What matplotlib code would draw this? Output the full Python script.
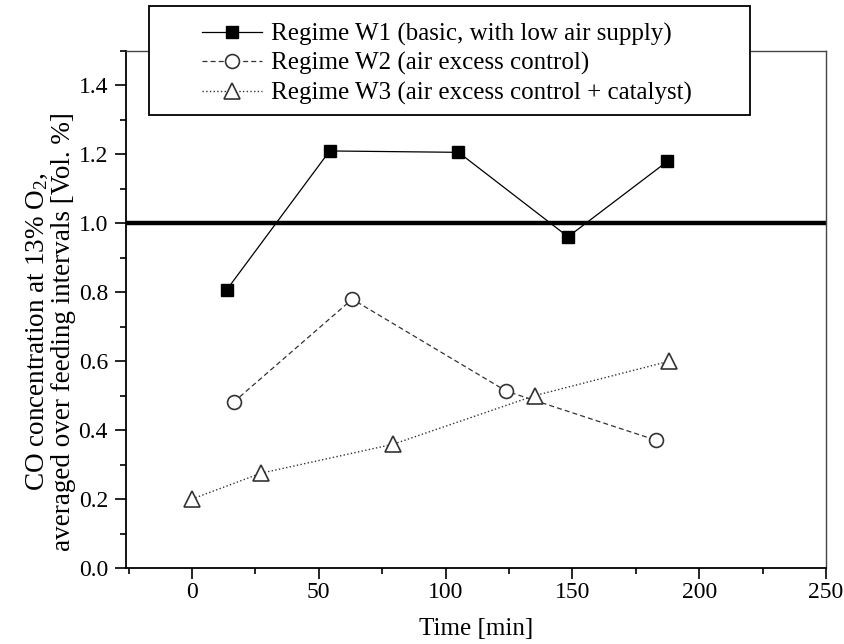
import matplotlib
matplotlib.use("Agg")
import matplotlib.pyplot as plt
from matplotlib.ticker import MultipleLocator, FormatStrFormatter
from matplotlib.patches import Rectangle

plt.rcParams['font.family'] = ['Liberation Serif', 'DejaVu Serif']
plt.rcParams['mathtext.fontset'] = 'custom'
plt.rcParams['mathtext.rm'] = 'Liberation Serif'
plt.rcParams['mathtext.it'] = 'Liberation Serif:italic'

# Data
w1_time = [13.7, 54.3, 105.1, 148.3, 187.5]
w1_co = [0.807, 1.210, 1.206, 0.961, 1.180]
w2_time = [16.4, 63.2, 124.0, 182.9]
w2_co = [0.481, 0.780, 0.513, 0.371]
w3_time = [0.0, 27.2, 79.3, 135.1, 188.2]
w3_co = [0.200, 0.275, 0.359, 0.500, 0.600]
limit_value = 1.0
labels = ["Regime W1 (basic, with low air supply)",
          "Regime W2 (air excess control)",
          "Regime W3 (air excess control + catalyst)"]

W, H = 845, 644
fig = plt.figure(figsize=(W/100, H/100), dpi=100)
ax = fig.add_axes([126/W, 1-568/H, (826-126)/W, (568-51)/H])

ax.axhline(limit_value, color='black', lw=3.2, zorder=2)
ax.plot(w1_time, w1_co, '-', color='black', lw=0.9, marker='s', ms=9,
        mfc='black', mec='black', label=labels[0], zorder=3)
ax.plot(w2_time, w2_co, '--', color='#333333', lw=0.9, marker='o', ms=10,
        mfc='white', mec='#333333', mew=1.2, label=labels[1], dashes=(4, 2.5), zorder=3)
ax.plot(w3_time, w3_co, ':', color='#333333', lw=1.0, marker='^', ms=11,
        mfc='white', mec='#333333', mew=1.2, label=labels[2], zorder=3)

ax.set_xlim(-26, 250)
ax.set_ylim(0, 1.5)
ax.xaxis.set_major_locator(MultipleLocator(50))
ax.xaxis.set_minor_locator(MultipleLocator(25))
ax.yaxis.set_major_locator(MultipleLocator(0.2))
ax.yaxis.set_minor_locator(MultipleLocator(0.1))
ax.yaxis.set_major_formatter(FormatStrFormatter('%.1f'))
ax.tick_params(which='major', direction='out', length=8, width=1.2, labelsize=17,
               top=False, right=False, pad=5)
ax.tick_params(axis='x', which='major', pad=2)
ax.tick_params(which='minor', direction='out', length=4.5, width=1.2, top=False, right=False)
for side in ['left', 'bottom']:
    ax.spines[side].set_linewidth(1.3)
for side in ['top', 'right']:
    ax.spines[side].set_linewidth(1.0)
    ax.spines[side].set_color('#444444')

ax.set_xlabel('Time [min]', fontsize=18, labelpad=11)
ax.set_ylabel('CO concentration at 13% O$_2$,\naveraged over feeding intervals [Vol. %]',
              fontsize=19.5, linespacing=1.02)
ax.yaxis.set_label_coords(-0.072, 0.458)

# legend frame drawn at its place in the figure
frame = Rectangle((149/W, 1-115/H), (750-149)/W, (115-6)/H, transform=fig.transFigure,
                  facecolor='white', edgecolor='black', lw=1.3, zorder=5)
fig.patches.append(frame)
leg = fig.legend(loc='upper left', bbox_to_anchor=(202/W, 1-23/H),
                 fontsize=18, frameon=False, handlelength=2.4, handletextpad=0.35,
                 borderpad=0.0, labelspacing=0.25, borderaxespad=0)
leg.set_zorder(6)

fig.savefig('out.png', dpi=100)
